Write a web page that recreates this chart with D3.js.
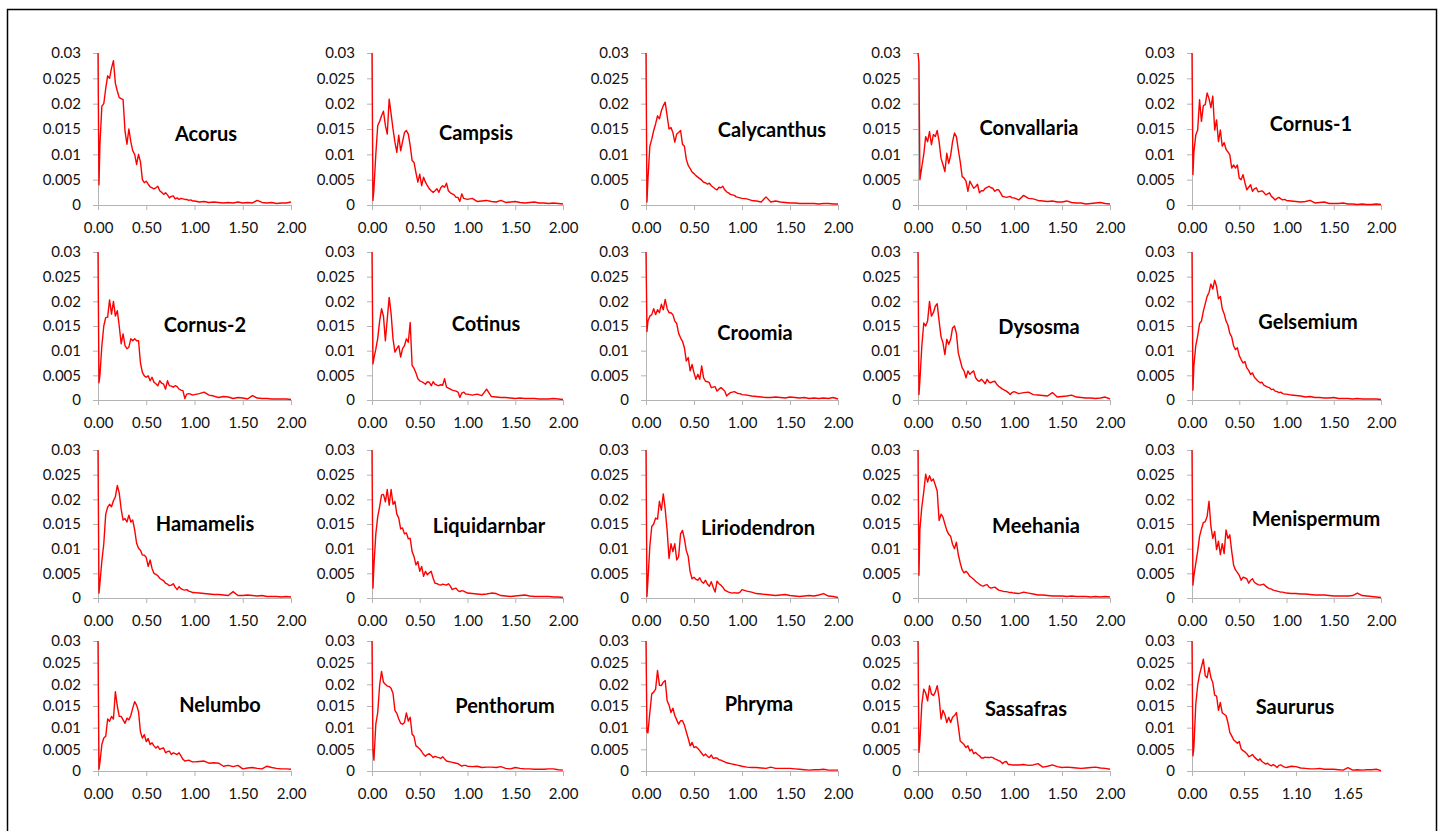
<!DOCTYPE html>
<html>
<head>
<meta charset="utf-8">
<script src="https://cdn.jsdelivr.net/npm/d3@7"></script>
<style>
  body { margin: 0; background: #fff; }
  svg { display: block; }
  .tick text { font-family: Lato, "Open Sans", sans-serif; font-size: 15px; fill: #111; }
  .title { font-family: Lato, "Open Sans", sans-serif; font-size: 20px; font-weight: bold; fill: #000; }
</style>
</head>
<body>
<script>
// sample positions (branch length), shared by every panel
const xs = [0, 0.01, 0.02,
  0.04, 0.06, 0.08, 0.10, 0.12, 0.14, 0.16, 0.18, 0.20, 0.22, 0.24, 0.26, 0.28, 0.30, 0.32, 0.34, 0.36, 0.38, 0.40, 0.42, 0.44, 0.46, 0.48, 0.50,
  0.52, 0.54, 0.56, 0.58, 0.60, 0.62, 0.64, 0.66, 0.68, 0.70, 0.72, 0.74, 0.76, 0.78, 0.80, 0.82, 0.84, 0.86, 0.88, 0.90, 0.92, 0.94, 0.96, 0.98, 1.00,
  1.05, 1.10, 1.15, 1.20, 1.25, 1.30, 1.35, 1.40, 1.45, 1.50, 1.55, 1.60, 1.65, 1.70, 1.75, 1.80, 1.85, 1.90, 1.95, 2.00];

const names = ['Acorus', 'Campsis', 'Calycanthus', 'Convallaria', 'Cornus-1',
  'Cornus-2', 'Cotinus', 'Croomia', 'Dysosma', 'Gelsemium',
  'Hamamelis', 'Liquidarnbar', 'Liriodendron', 'Meehania', 'Menispermum',
  'Nelumbo', 'Penthorum', 'Phryma', 'Sassafras', 'Saururus'];

// frequencies, in units of 0.001
const acorus = [30, 4, 12,
  19.5, 20, 23, 25.5, 25, 27, 28.5, 24, 22.5, 21.2, 21, 20.8, 14.6, 12, 15, 12.5, 10.7, 10, 8, 10, 8.5, 5, 4.4, 4.7,
  4.1, 3.6, 3.4, 3.2, 3.4, 3.7, 2.8, 2.5, 2.1, 2.4, 2, 1.4, 1.7, 1.8, 1.2, 1.4, 1.1, 1.3, 1.2, 1.1, 1.1, 0.9, 1.0, 0.8, 0.8,
  0.6, 0.7, 0.5, 0.6, 0.5, 0.4, 0.5, 0.4, 0.6, 0.4, 0.5, 0.4, 0.9, 0.5, 0.4, 0.5, 0.3, 0.4, 0.4, 0.6];
const campsis = [30, 0.9, 3,
  10, 15.7, 16.5, 17.6, 18.5, 15.7, 14, 20.9, 18, 15, 12.4, 10.4, 13.8, 10.7, 12.5, 14.3, 14.7, 14, 11.7, 8.8, 8.4, 6.4, 4.5, 6.1,
  3.8, 5.5, 4.5, 3.8, 3.2, 2.8, 2.5, 2.8, 3.2, 2.5, 3.4, 3.8, 3.5, 4.3, 2.8, 2.4, 2.2, 2, 1.5, 1.5, 0.7, 2.2, 1.3, 1.2, 1.1,
  1.3, 0.7, 0.8, 0.9, 0.7, 0.6, 0.9, 0.5, 0.6, 0.7, 0.5, 0.4, 0.5, 0.6, 0.4, 0.4, 0.3, 0.4, 0.3, 0.2];
const calycanthus = [30, 0.6, 5,
  11.6, 13, 14.7, 16, 17.6, 17, 18.6, 19.6, 20.3, 17.6, 15, 15.3, 14.3, 12.4, 14, 14.3, 14.7, 12, 11.6, 9, 7.8, 7.2, 6.5, 6.2,
  5.8, 5.5, 5.2, 4.9, 4.5, 4.4, 4.1, 4.3, 3.8, 3.5, 3.2, 3, 3.5, 3.4, 3.7, 3.0, 2.6, 2.4, 2.1, 2, 1.9, 1.6, 1.5, 1.4, 1.3,
  1.2, 0.9, 0.8, 0.6, 1.6, 0.6, 0.8, 0.6, 0.5, 0.4, 0.4, 0.3, 0.3, 0.3, 0.3, 0.2, 0.3, 0.3, 0.2, 0.2];
const convallaria = [30, 28, 5,
  7.6, 10, 13.5, 12.5, 14.5, 11.9, 13.9, 13.5, 14.7, 12.5, 9.2, 8, 6.6, 10.2, 8.2, 9.8, 12.5, 14.2, 13.5, 10.9, 8.5, 5.6, 5.3, 4.7,
  2.7, 4.7, 4, 3.3, 3.6, 4.1, 2.4, 2.8, 2.8, 3.3, 3.5, 3.7, 3.4, 3.3, 2.7, 3, 3.0, 2.4, 1.7, 1.6, 1.5, 1.6, 1.7, 1.4, 1.4,
  1.0, 1.9, 1.3, 1.2, 0.9, 0.8, 0.7, 0.8, 0.6, 0.6, 0.8, 0.5, 0.4, 0.4, 0.2, 0.3, 0.4, 0.5, 0.3, 0.2];
const cornus1 = [30, 6, 10.5,
  13.8, 14.8, 20.8, 16.5, 19.6, 19.8, 22.1, 21, 19.2, 21.5, 14.8, 16.8, 12.5, 14.8, 11.6, 12.3, 11, 10.5, 9.9, 7.3, 7.9, 7.3, 7.9, 5.3,
  5, 6, 4.4, 3, 3.5, 4, 2.7, 3.2, 3.4, 2.6, 2.7, 2.8, 2.5, 2, 2.2, 2.4, 1.7, 1.4, 1, 1.3, 1.5, 1.2, 1, 1.1, 0.9,
  0.8, 0.7, 0.6, 0.7, 0.9, 0.4, 0.5, 0.6, 0.3, 0.3, 0.3, 0.4, 0.2, 0.2, 0.1, 0.2, 0.1, 0.1, 0.2, 0.1];
const cornus2 = [30, 3.5, 5,
  11, 15, 16.7, 16.8, 20.3, 17.4, 20, 17, 18.1, 15, 11.4, 13.4, 11, 10.4, 10.7, 12.4, 12, 12.4, 12, 12, 7.5, 5.6, 4.9, 4.6,
  4.9, 3.9, 4.6, 3.6, 3.3, 2.9, 3.9, 3.4, 3.2, 2.2, 3.9, 2.9, 2.8, 2.6, 2.9, 2.7, 2.2, 2, 1.9, 0.3, 1.2, 1.3, 1.2, 1, 1.1,
  1.3, 1.6, 1.0, 0.8, 0.5, 0.7, 0.6, 0.3, 0.5, 0.4, 0.2, 0.9, 0.4, 0.3, 0.3, 0.2, 0.2, 0.2, 0.2, 0.1];
const cotinus = [30, 7.3, 8.5,
  10.3, 12.5, 16, 18.5, 17, 12, 16.5, 20.8, 17.5, 12.4, 9.7, 10.4, 11, 8.7, 10.4, 11, 12.4, 11.7, 15.7, 7, 6.4, 5.5, 4.3, 3.9,
  3.7, 3.5, 3.2, 3.7, 3.6, 2.9, 3.7, 3.2, 3, 2.9, 3.1, 3, 4.3, 2.6, 2.4, 2.2, 2, 1.9, 1.8, 1.6, 0.5, 1.4, 1.6, 1.2, 1.2,
  1, 1.2, 0.9, 2.2, 0.7, 0.6, 0.5, 0.5, 0.4, 0.3, 0.4, 0.3, 0.3, 0.3, 0.2, 0.2, 0.2, 0.3, 0.2, 0.1];
const croomia = [30, 13.9, 16,
  17, 17.3, 18.5, 17.3, 18.3, 17.7, 19.4, 18.3, 20.4, 18.5, 17.7, 17.7, 17.3, 16, 15.5, 13.5, 12.6, 11.9, 10.6, 7.9, 8.6, 5.9, 7.2, 5.5,
  4.2, 5.2, 4.2, 6.9, 4.5, 3.8, 3.7, 3.5, 2.5, 2.6, 2.7, 1.8, 2.2, 2.5, 2.2, 1.8, 0.8, 1.2, 1.5, 1.6, 1.7, 1.5, 1.3, 1.3, 1.1,
  1, 0.8, 0.7, 0.6, 0.5, 0.5, 0.6, 0.5, 0.4, 0.6, 0.5, 0.4, 0.5, 0.3, 0.4, 0.3, 0.4, 0.3, 0.5, 0.2];
const dysosma = [30, 1.1, 4,
  11, 15.6, 15, 16, 20, 17, 17.7, 19, 19.5, 16, 12.8, 11.6, 9.2, 12.3, 11.3, 12.3, 14.6, 15, 13.5, 9.5, 8.0, 6.5, 5.9, 4.5,
  5.9, 5.2, 5.6, 5.9, 4.5, 4, 3.8, 4.2, 3.8, 3.3, 4.2, 3.6, 3.5, 3.7, 3.8, 3.2, 2.8, 2.5, 2.2, 2, 1.8, 1.5, 1.1, 1.5, 1.7,
  1.3, 1.5, 1.6, 1.1, 1, 0.9, 0.8, 1.5, 0.6, 0.7, 0.8, 1, 0.6, 0.5, 0.4, 0.4, 0.3, 0.4, 0.6, 0.2];
const gelsemium = [30, 2, 7,
  11, 13, 15.5, 16, 18, 19.5, 21, 21.8, 23.5, 22.5, 24.3, 23, 20.5, 21, 18.5, 17.5, 16, 15.2, 13.5, 12.8, 11, 10.2, 10.6, 9,
  8.2, 7.5, 7.8, 6.5, 6, 5.2, 5.5, 4.6, 4.2, 3.8, 3.5, 3.6, 3, 2.8, 2.6, 2.5, 2.1, 2.2, 1.8, 1.7, 1.5, 1.6, 1.3, 1.2, 1.2,
  1, 0.9, 0.8, 0.6, 0.7, 0.5, 0.5, 0.4, 0.4, 0.5, 0.3, 0.3, 0.3, 0.2, 0.3, 0.2, 0.2, 0.2, 0.2, 0.1];
const hamamelis = [30, 1, 3,
  7.5, 11, 17, 18.4, 19, 18.5, 19.7, 20.5, 22.8, 21.3, 18, 15.8, 16.1, 15.4, 16.8, 15.4, 15.8, 13.8, 11.1, 10.1, 9.7, 8.7, 8.7, 8.2,
  6.4, 7.7, 6.0, 5, 4.8, 4.5, 4, 3.7, 3.5, 3, 2.8, 2.5, 2.6, 2.9, 2.2, 1.7, 2.3, 1.9, 1.7, 1.6, 1.7, 1.4, 1.3, 1.1, 1.1,
  1, 0.9, 0.8, 0.7, 0.7, 0.6, 0.5, 1.3, 0.5, 0.5, 0.6, 0.5, 0.4, 0.5, 0.3, 0.3, 0.3, 0.2, 0.3, 0.2];
const liquidarnbar = [30, 2, 6.5,
  13, 16.5, 18.5, 20.9, 21, 19.5, 22, 18.8, 22, 19, 19.6, 17, 16.2, 14, 14.2, 13, 13.2, 12, 12.1, 9.4, 8.4, 6.7, 7.4, 5.4,
  6.4, 4.4, 5.4, 4.7, 5.1, 5.4, 4, 3, 2.9, 2.7, 2.6, 2.8, 2.7, 2.6, 2.9, 2.4, 1.7, 1.9, 2, 1.5, 1.3, 1.5, 1.4, 1.2, 1.0,
  0.9, 0.8, 0.7, 0.8, 1.0, 0.9, 0.5, 0.4, 0.3, 0.4, 0.5, 0.6, 0.4, 0.3, 0.3, 0.3, 0.3, 0.2, 0.2, 0.1];
const liriodendron = [30, 0.3, 3.5,
  10.5, 14.5, 15, 16.2, 16, 19.6, 17.8, 21.1, 18, 13.7, 8, 11, 9.4, 11, 7.7, 8.4, 13, 13.7, 12, 9.6, 8.4, 5.3, 3.9, 4.2,
  3.8, 3.6, 4.1, 3.3, 3, 3.6, 2.8, 2.4, 3.3, 2.2, 1.2, 3.4, 2.9, 2.6, 2.2, 1.6, 1.4, 1.2, 1.1, 1, 1.1, 1, 1, 1.2, 1.7,
  1.4, 1.2, 0.9, 0.8, 0.7, 0.6, 0.5, 0.6, 0.7, 0.5, 0.4, 0.3, 0.4, 0.5, 0.4, 0.6, 0.9, 0.4, 0.3, 0.1];
const meehania = [30, 4.6, 14,
  18.5, 21.5, 25.1, 23.5, 24.8, 23.7, 24.1, 22.9, 21.7, 15.7, 17, 16.4, 15, 13.7, 12.9, 12.5, 10.9, 10, 11.3, 8.8, 7.1, 5.7, 5.1, 5.4,
  5, 4.4, 4.1, 3.8, 3.4, 3.1, 2.8, 2.5, 2.4, 2.6, 2.7, 2.2, 2, 2.1, 2.2, 1.9, 1.6, 1.5, 1.4, 1.3, 1.3, 1.2, 1.1, 1.1, 1,
  0.9, 1.2, 1.0, 0.8, 0.6, 0.6, 0.5, 0.4, 0.4, 0.4, 0.3, 0.4, 0.3, 0.3, 0.3, 0.2, 0.3, 0.2, 0.3, 0.2];
const menispermum = [30, 2.6, 4.5,
  7, 9.5, 12.5, 14, 15.3, 15.5, 16.5, 19.6, 14.5, 12.1, 13.5, 9.8, 11.5, 8.8, 11, 9, 13.8, 12.1, 12.8, 9.5, 6.7, 5.7, 5.2, 4.6,
  3.6, 4.2, 4.1, 3.9, 3, 3.6, 3.9, 3.2, 2.9, 2.7, 2.6, 2.7, 2.8, 2.4, 2.1, 1.9, 1.8, 1.6, 1.5, 1.4, 1.3, 1.2, 1.2, 1.1, 1.0,
  0.9, 0.9, 0.8, 0.8, 0.7, 0.6, 0.6, 0.6, 0.5, 0.4, 0.4, 0.4, 0.4, 0.5, 1.0, 0.5, 0.4, 0.3, 0.2, 0.1];
const nelumbo = [30, 0.4, 2,
  6.1, 7.6, 8, 12, 11.5, 12.6, 12, 18.3, 15, 12.6, 12.6, 11.8, 11, 12.2, 11.8, 12.8, 14.5, 16, 15.2, 13.7, 9, 7.6, 8.4, 6.8,
  7.5, 6.1, 6.5, 5.8, 5.3, 5.7, 5, 5.2, 5.3, 4.2, 4.5, 4.6, 3.8, 4.2, 4.0, 3.8, 4.2, 3.5, 2.7, 2.3, 2.4, 2.5, 2.3, 2.1, 2.1,
  2.2, 2.3, 1.8, 1.9, 1.8, 1.1, 1.3, 1, 1.3, 0.5, 0.7, 0.8, 0.6, 0.5, 1.1, 0.8, 0.6, 0.5, 0.5, 0.4];
const penthorum = [30, 5, 2.5,
  10.8, 13.5, 19.8, 23, 20.5, 20, 19.6, 19.5, 19.1, 17.9, 14, 13.3, 12, 11, 10.8, 11.2, 13.4, 11.5, 12.4, 8.5, 8, 5.8, 5.5, 5.1,
  4.5, 3.8, 3.4, 3.8, 4, 3.6, 3.1, 3.4, 3.2, 3.1, 2.9, 3.3, 2.8, 2.3, 2.2, 2.1, 2, 1.9, 1.8, 1.7, 1.4, 1.1, 1.3, 1.3, 1.1,
  1, 1.1, 0.8, 0.9, 0.9, 0.8, 1, 0.6, 0.5, 0.8, 0.6, 0.5, 0.5, 0.4, 0.4, 0.4, 0.5, 0.5, 0.3, 0.2];
const phryma = [30, 9, 8.8,
  13.5, 17.8, 18.2, 18.9, 23.2, 19.8, 19.7, 20.5, 20.9, 16.2, 15.2, 13.5, 14.5, 12.8, 11.8, 10.8, 11.6, 11.6, 10.6, 9, 7.5, 5.8, 6.6, 5.4,
  5.6, 5.2, 4.7, 4.1, 3.5, 3.9, 3.4, 3.1, 3.7, 2.9, 3.0, 3.0, 2.6, 2.5, 2.3, 2.1, 1.9, 1.8, 1.7, 1.6, 1.5, 1.4, 1.3, 1.2, 1.1,
  0.9, 0.8, 0.8, 0.7, 0.6, 0.9, 0.6, 0.6, 0.6, 0.6, 0.5, 0.4, 0.3, 0.2, 0.3, 0.3, 0.4, 0.2, 0.2, 0.2];
const sassafras = [30, 4.3, 7,
  15.5, 18.9, 18, 16.2, 19.7, 17.8, 17.4, 18.2, 19.7, 16.8, 12, 14, 13, 11.2, 12.4, 11.2, 12.4, 12.8, 13.5, 10.3, 6.9, 6.5, 6.1, 5.4,
  5.8, 4.6, 5, 4, 4.3, 3.8, 3.5, 3, 3.0, 3.2, 3.1, 3.1, 3.2, 3.1, 2.8, 2.6, 2.4, 2.2, 1.7, 2.1, 2.2, 1.5, 1.5, 1.4, 1.4,
  1.4, 1.5, 1.3, 1.4, 1.7, 0.9, 1.1, 1.4, 1.0, 0.8, 0.9, 0.8, 0.7, 0.6, 0.7, 0.8, 0.9, 0.7, 0.6, 0.4];
const saururus = [30, 3.5, 5.5,
  15.4, 19.8, 22.3, 24, 25.8, 22, 21.5, 23.9, 21.5, 20.4, 17.5, 17.3, 14, 15.8, 13.4, 13.1, 12.8, 11.2, 8.9, 8.1, 7.2, 6.8, 6.4, 6.8,
  5.1, 4.7, 4.4, 4.0, 3.3, 3.5, 3.8, 3.2, 2.8, 2.4, 2.8, 2.2, 1.9, 1.6, 1.8, 1.4, 1.2, 1.5, 1.2, 0.8, 1.3, 1.4, 1.1, 0.9, 0.8,
  1.1, 1, 0.7, 0.6, 0.5, 0.5, 0.6, 0.4, 0.4, 0.4, 0.3, 0.2, 0.8, 0.2, 0.3, 0.2, 0.3, 0.3, 0.4, 0.1];

const series = [acorus, campsis, calycanthus, convallaria, cornus1,
  cornus2, cotinus, croomia, dysosma, gelsemium,
  hamamelis, liquidarnbar, liriodendron, meehania, menispermum,
  nelumbo, penthorum, phryma, sassafras, saururus];

const yTicks = [0, 0.005, 0.01, 0.015, 0.02, 0.025, 0.03];
const xTicks = [0, 0.5, 1, 1.5, 2];
const xTicksSaururus = [0, 0.55, 1.1, 1.65];

// layout of the 4 x 5 grid (pixels)
const colX = [[98, 291], [372, 563], [646, 838], [918, 1110], [1192, 1381]];
const rowY = [[53, 205], [252, 400], [450, 598], [641, 771]];
const titleAt = [
  [206, 133], [476, 132], [772, 129], [1029, 127], [1311, 123],
  [205, 324], [486, 323], [755, 332], [1039, 326], [1308, 321],
  [205, 523], [489, 525], [758, 527], [1036, 525], [1316, 518],
  [220, 704], [505, 705], [759, 703], [1026, 708], [1295, 706]
];

const svg = d3.select('body').append('svg')
  .attr('width', 1444)
  .attr('height', 831);

svg.append('rect')
  .attr('x', 7.5).attr('y', 9.5)
  .attr('width', 1429).attr('height', 840)
  .attr('fill', 'none')
  .attr('stroke', '#000')
  .attr('stroke-width', 1.5);

const yFmt = d => String(+d.toFixed(3));

names.forEach((name, i) => {
  const r = Math.floor(i / 5);
  const c = i % 5;
  const x = d3.scaleLinear().domain([0, 2]).range(colX[c]);
  const y = d3.scaleLinear().domain([0, 0.03]).range([rowY[r][1], rowY[r][0]]);
  const g = svg.append('g').attr('class', 'panel');

  const xAxis = d3.axisBottom(x)
    .tickValues(name === 'Saururus' ? xTicksSaururus : xTicks)
    .tickFormat(d3.format('.2f'))
    .tickSize(5)
    .tickSizeOuter(0)
    .tickPadding(12);
  const yAxis = d3.axisLeft(y)
    .tickValues(yTicks)
    .tickFormat(yFmt)
    .tickSize(5)
    .tickSizeOuter(0)
    .tickPadding(12);

  g.append('g').attr('transform', `translate(0,${rowY[r][1]})`).call(xAxis);
  g.append('g').attr('transform', `translate(${colX[c][0]},0)`).call(yAxis);
  g.selectAll('.domain, .tick line').attr('stroke', '#b4b4b4');

  const line = d3.line()
    .x((d, j) => x(xs[j]))
    .y(d => y(d / 1000));

  g.append('path')
    .datum(series[i])
    .attr('d', line)
    .attr('fill', 'none')
    .attr('stroke', '#ff0000')
    .attr('stroke-width', 1.4)
    .attr('stroke-linejoin', 'round');

  g.append('text')
    .attr('class', 'title')
    .attr('x', titleAt[i][0])
    .attr('y', titleAt[i][1])
    .attr('text-anchor', 'middle')
    .attr('dominant-baseline', 'central')
    .text(name);
});
</script>
</body>
</html>
